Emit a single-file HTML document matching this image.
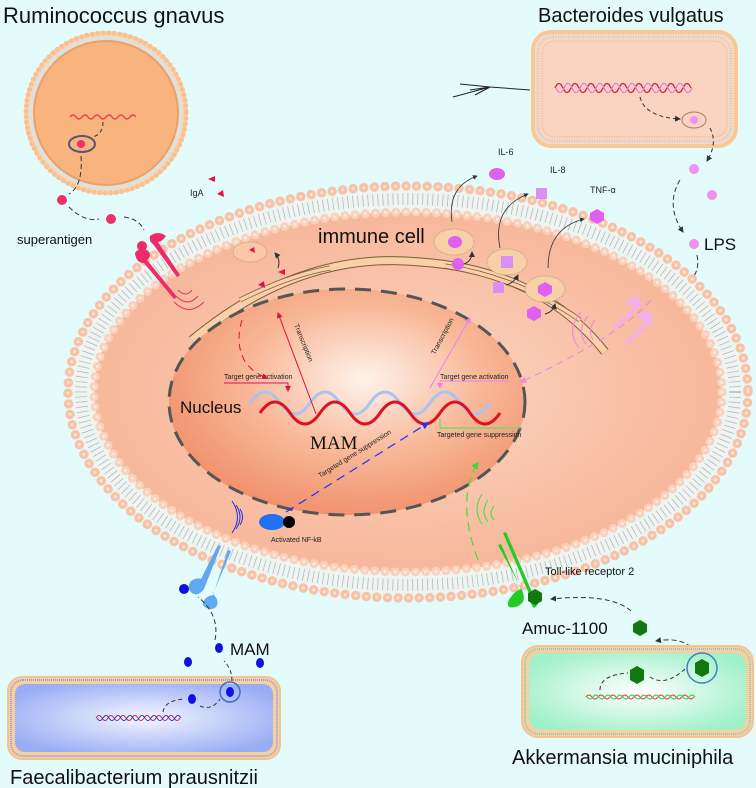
<!DOCTYPE html>
<html><head><meta charset="utf-8"><style>
html,body{margin:0;padding:0;background:#e4fbfb;}
svg{display:block;font-family:"Liberation Sans",sans-serif;}
</style></head><body>
<svg width="756" height="788" viewBox="0 0 756 788" xmlns="http://www.w3.org/2000/svg">
<defs>
<radialGradient id="nuc" cx="0.55" cy="0.4" r="0.65">
<stop offset="0" stop-color="#fff3ec"/><stop offset="0.5" stop-color="#f8b898"/><stop offset="1" stop-color="#f08c66"/>
</radialGradient>
<radialGradient id="cyto" cx="0.5" cy="0.5" r="0.6">
<stop offset="0" stop-color="#fbd6c2"/><stop offset="1" stop-color="#f6b193"/>
</radialGradient>
<radialGradient id="blue" cx="0.5" cy="0.5" r="0.6">
<stop offset="0" stop-color="#f4f6ff"/><stop offset="1" stop-color="#98adf4"/>
</radialGradient>
<radialGradient id="green" cx="0.5" cy="0.5" r="0.6">
<stop offset="0" stop-color="#ffffff"/><stop offset="1" stop-color="#9ff0c8"/>
</radialGradient>
<marker id="ah" markerWidth="6" markerHeight="6" refX="5" refY="3" orient="auto"><path d="M0,0L6,3L0,6z" fill="#333"/></marker>
<marker id="ahr" markerWidth="6" markerHeight="6" refX="5" refY="3" orient="auto"><path d="M0,0L6,3L0,6z" fill="#e0103a"/></marker>
<marker id="ahp" markerWidth="6" markerHeight="6" refX="5" refY="3" orient="auto"><path d="M0,0L6,3L0,6z" fill="#f080f0"/></marker>
<marker id="ahb" markerWidth="6" markerHeight="6" refX="5" refY="3" orient="auto"><path d="M0,0L6,3L0,6z" fill="#2030ff"/></marker>
<marker id="ahg" markerWidth="6" markerHeight="6" refX="5" refY="3" orient="auto"><path d="M0,0L6,3L0,6z" fill="#30e030"/></marker>
</defs>
<rect width="756" height="788" fill="#e4fbfb"/>

<!-- Ruminococcus -->
<text x="3" y="23" font-size="22" fill="#111">Ruminococcus gnavus</text>
<circle cx="106" cy="113" r="82" fill="#fbd6b6"/>
<circle cx="106" cy="113" r="80" fill="none" stroke="#f9c090" stroke-width="5" stroke-dasharray="0 5.5" stroke-linecap="round"/>
<circle cx="106" cy="113" r="75" fill="none" stroke="#d8e4e4" stroke-width="3"/>
<circle cx="106" cy="113" r="72" fill="#f8b47c" stroke="#e8a070" stroke-width="2"/>
<path d="M70,117 q3,-4 6,0 t6,0 t6,0 t6,0 t6,0 t6,0 t6,0 t6,0 t6,0 t6,0 t6,0" fill="none" stroke="#f03050" stroke-width="1.2"/>
<ellipse cx="82" cy="144" rx="13" ry="8" fill="none" stroke="#557" stroke-width="2"/>
<circle cx="81" cy="144" r="4" fill="#f0306a"/>
<path d="M103,122 q0,12 -10,15" fill="none" stroke="#333" stroke-dasharray="4 3"/>
<path d="M81,156 q2,30 -12,38" fill="none" stroke="#333" stroke-dasharray="5 3"/>
<circle cx="62" cy="200" r="5" fill="#f0306a"/>
<circle cx="111" cy="219" r="5" fill="#f0306a"/>
<path d="M69,207 q15,15 30,12" fill="none" stroke="#333" stroke-dasharray="5 3"/>
<path d="M124,217 q15,2 20,13" fill="none" stroke="#333" stroke-dasharray="5 3"/>
<text x="17" y="244" font-size="13" fill="#111">superantigen</text>
<text x="190" y="196" font-size="9" fill="#222">IgA</text>
<path d="M208,179 l7,-3 l0,6z M217,194 l6,-4 l1,7z" fill="#e8104a"/>

<!-- Bacteroides -->
<text x="538" y="22" font-size="20" fill="#111">Bacteroides vulgatus</text>
<rect x="533" y="32" width="203" height="114" rx="18" fill="#fad8c4" stroke="#f8c898" stroke-width="4"/>
<rect x="538" y="37" width="193" height="104" rx="15" fill="none" stroke="#ccc" stroke-width="3" stroke-dasharray="1 1.5"/>
<rect x="542" y="41" width="185" height="96" rx="12" fill="#fad4c0" stroke="#f6c29c" stroke-width="1"/>
<path d="M555,88 q4,-9 8,0 t8,0 t8,0 t8,0 t8,0 t8,0 t8,0 t8,0 t8,0 t8,0 t8,0 t8,0 t8,0 t8,0 t8,0 t8,0 t8,0" fill="none" stroke="#e0103a" stroke-width="1.3"/>
<path d="M556,88 q4,9 8,0 t8,0 t8,0 t8,0 t8,0 t8,0 t8,0 t8,0 t8,0 t8,0 t8,0 t8,0 t8,0 t8,0 t8,0 t8,0 t8,0" fill="none" stroke="#e080e0" stroke-width="1.3"/>
<path d="M530,90 L490,87 L453,97 M490,87 L470,90 M490,87 L460,84 M490,87 L475,95" fill="none" stroke="#222" stroke-width="1"/>
<ellipse cx="694" cy="120" rx="12" ry="8" fill="none" stroke="#a08060"/>
<circle cx="694" cy="120" r="4" fill="#f090f0"/>
<path d="M640,97 q5,20 40,22" fill="none" stroke="#333" stroke-dasharray="4 3" marker-end="url(#ah)"/>
<path d="M710,128 q8,15 -3,33" fill="none" stroke="#333" stroke-dasharray="4 3" marker-end="url(#ah)"/>
<circle cx="694" cy="169" r="5" fill="#f090f0"/>
<circle cx="712" cy="195" r="5" fill="#f090f0"/>
<circle cx="694" cy="244" r="5" fill="#f090f0"/>
<circle cx="661" cy="298" r="5" fill="#f090f0"/>
<path d="M680,180 q-15,25 3,52" fill="none" stroke="#333" stroke-dasharray="5 3" marker-end="url(#ah)"/>
<path d="M697,255 q5,25 -22,34" fill="none" stroke="#333" stroke-dasharray="5 3" marker-end="url(#ah)"/>
<text x="704" y="250" font-size="17" fill="#111">LPS</text>

<!-- Immune cell -->
<ellipse cx="408" cy="392" rx="340" ry="206" fill="#eef4f2"/>
<ellipse cx="408" cy="392" rx="327" ry="193" fill="none" stroke="#aab4b4" stroke-width="12" stroke-dasharray="0.7 4.3"/>
<ellipse cx="408" cy="392" rx="314" ry="180" fill="url(#cyto)"/>
<ellipse cx="408" cy="392" rx="340" ry="206" fill="none" stroke="#f7c2a6" stroke-width="9.5" stroke-dasharray="0 10.6" stroke-linecap="round"/>
<ellipse cx="408" cy="392" rx="340" ry="206" fill="none" stroke="#fde6da" stroke-width="3" stroke-dasharray="0 10.6" stroke-linecap="round"/>
<ellipse cx="408" cy="392" rx="314" ry="180" fill="none" stroke="#f9d2bd" stroke-width="9" stroke-dasharray="0 10.2" stroke-linecap="round"/>
<ellipse cx="408" cy="392" rx="314" ry="180" fill="none" stroke="#fde8de" stroke-width="3" stroke-dasharray="0 10.2" stroke-linecap="round"/>
<text x="318" y="243" font-size="20" fill="#111">immune cell</text>

<!-- ER -->
<path d="M192,340 Q300,250 420,262 Q540,270 605,352" fill="none" stroke="#7a5a40" stroke-width="9"/>
<path d="M192,340 Q300,250 420,262 Q540,270 605,352" fill="none" stroke="#fad0a8" stroke-width="7"/>
<path d="M240,300 Q290,275 330,268" fill="none" stroke="#7a5a40" stroke-width="5"/>
<path d="M240,300 Q290,275 330,268" fill="none" stroke="#fad0a8" stroke-width="3.5"/>
<path d="M445,266 Q520,278 580,320" fill="none" stroke="#7a5a40" stroke-width="5"/>
<path d="M445,266 Q520,278 580,320" fill="none" stroke="#fad0a8" stroke-width="3.5"/>

<!-- Nucleus -->
<ellipse cx="347" cy="402" rx="178" ry="113" fill="url(#nuc)" stroke="#555" stroke-width="3" stroke-dasharray="16 10"/>
<text x="180" y="413" font-size="17" fill="#111">Nucleus</text>
<text x="310" y="449" font-size="19" font-family="Liberation Serif,serif" fill="#111">MAM</text>
<path d="M250,403 q15,-22 30,0 t30,0 t30,0 t30,0 t30,0 t30,0 t30,0 t30,0" fill="none" stroke="#a8c4f4" stroke-width="3"/>
<path d="M260,413 q15,-22 30,0 t30,0 t30,0 t30,0 t30,0 t30,0 t30,0 t30,0" fill="none" stroke="#e01020" stroke-width="3"/>

<text x="224" y="379" font-size="7" fill="#222">Target gene activation</text>
<path d="M224,383 H288 V391" fill="none" stroke="#e0105a" stroke-width="1" marker-end="url(#ahr)"/>
<text x="440" y="379" font-size="7" fill="#222">Target gene activation</text>
<path d="M510,381 H440 V388" fill="none" stroke="#f080f0" stroke-width="1" marker-end="url(#ahp)"/>
<text x="437" y="437" font-size="7" fill="#222">Targeted gene suppression</text>
<path d="M521,428 H440 V418" fill="none" stroke="#60e060" stroke-width="1.2"/>
<path d="M316,414 L278,313" stroke="#e0103a" stroke-width="1" marker-end="url(#ahr)"/>
<text transform="translate(294,325) rotate(68)" font-size="7" fill="#222">Transcription</text>
<path d="M430,388 L470,318" stroke="#f080f0" stroke-width="1" marker-end="url(#ahp)"/>
<text transform="translate(435,355) rotate(-62)" font-size="7" fill="#222">Transcription</text>
<path d="M286,512 L428,423" stroke="#2030ff" stroke-width="1.2" stroke-dasharray="9 6" marker-end="url(#ahb)"/>
<text transform="translate(320,478) rotate(-32)" font-size="7" fill="#222">Targeted gene suppression</text>
<path d="M242,320 q-6,20 0,35 q5,15 25,23" fill="none" stroke="#e0103a" stroke-width="1" stroke-dasharray="7 5" marker-end="url(#ahr)"/>
<path d="M651,300 q-30,35 -130,82" fill="none" stroke="#f080f0" stroke-width="1" stroke-dasharray="7 5" marker-end="url(#ahp)"/>
<path d="M478,560 q-15,-40 -10,-70 q3,-18 10,-27" fill="none" stroke="#40e040" stroke-width="1.2" stroke-dasharray="9 6" marker-end="url(#ahg)"/>

<!-- IgA vesicle -->
<ellipse cx="250" cy="252" rx="17" ry="10" fill="#fac8a8" stroke="#c8a080" stroke-dasharray="1.5 1"/>
<path d="M249,250 l5,-3 l1,6z M278,272 l7,-3 l0,6z M258,285 l6,-4 l1,7z" fill="#e8104a"/>
<path d="M278,268 q3,-8 -3,-15" fill="none" stroke="#333" marker-end="url(#ah)"/>

<!-- cytokine vesicles -->
<ellipse cx="454" cy="242" rx="20" ry="13" fill="#f8d0a8" stroke="#c8a080" stroke-dasharray="1.5 1"/>
<ellipse cx="455" cy="242" rx="7" ry="6" fill="#e060f0"/>
<ellipse cx="458" cy="264" rx="6" ry="6" fill="#e060f0"/>
<path d="M464,264 q8,-3 8,-12" fill="none" stroke="#333" marker-end="url(#ah)"/>
<ellipse cx="507" cy="262" rx="20" ry="13" fill="#f8d0a8" stroke="#c8a080" stroke-dasharray="1.5 1"/>
<rect x="501" y="256" width="12" height="12" fill="#d890f4"/>
<rect x="493" y="282" width="11" height="11" fill="#d890f4"/>
<path d="M506,285 q8,-2 12,-10" fill="none" stroke="#333" marker-end="url(#ah)"/>
<ellipse cx="545" cy="289" rx="20" ry="13" fill="#f8d0a8" stroke="#c8a080" stroke-dasharray="1.5 1"/>
<path d="M545,282 l7,4 v7 l-7,4 l-7,-4 v-7z" fill="#e060f0"/>
<path d="M534,306 l7,4 v7 l-7,4 l-7,-4 v-7z" fill="#e060f0"/>
<path d="M545,314 q8,-2 10,-10" fill="none" stroke="#333" marker-end="url(#ah)"/>
<path d="M452,222 q-5,-35 25,-46" fill="none" stroke="#333" stroke-width="0.8" marker-end="url(#ah)"/>
<path d="M500,248 q-8,-40 28,-54" fill="none" stroke="#333" stroke-width="0.8" marker-end="url(#ah)"/>
<path d="M548,268 q0,-40 36,-49" fill="none" stroke="#333" stroke-width="0.8" marker-end="url(#ah)"/>
<text x="498" y="155" font-size="9" fill="#222">IL-6</text>
<ellipse cx="497" cy="174" rx="8" ry="6" fill="#e060f0"/>
<text x="550" y="173" font-size="9" fill="#222">IL-8</text>
<rect x="536" y="188" width="11" height="11" fill="#d890f4"/>
<text x="590" y="193" font-size="9" fill="#222">TNF-α</text>
<path d="M597,209 l7,4 v7 l-7,4 l-7,-4 v-7z" fill="#e060f0"/>

<!-- Pink superantigen receptor -->
<g fill="#ee2a6a">
<circle cx="142" cy="246" r="5"/>
<path d="M150,236 q8,-6 16,0 q-4,6 -8,6 l22,33 l-3,2 l-24,-33 q-4,-2 -3,-8z"/>
<path d="M135,253 q4,-6 12,-3 q6,5 0,10 l30,37 l-3,2 l-30,-36 q-8,0 -9,-10z"/>
</g>
<path d="M178,290 q8,8 14,0 M176,296 q12,12 22,0 M174,302 q15,15 30,0" fill="none" stroke="#ee2a6a" stroke-width="1"/>
<!-- LPS receptor -->
<g fill="#f0b0e8">
<path d="M640,298 q-10,-4 -14,6 q6,4 10,2 l-24,22 l3,2 l24,-22 q4,-3 1,-10z"/>
<path d="M650,312 q-12,-2 -12,8 q6,3 10,1 l-24,22 l3,2 l24,-22 q4,-3 -1,-11z"/>
</g>
<path d="M595,320 q-8,10 -2,20 M588,316 q-12,14 -2,28 M581,312 q-16,18 -2,36" fill="none" stroke="#f080f0" stroke-width="1"/>

<!-- NF-kB and blue receptor -->
<ellipse cx="272" cy="522" rx="13" ry="8" fill="#2070f0"/>
<circle cx="289" cy="522" r="6" fill="#000"/>
<text x="271" y="542" font-size="7" fill="#222">Activated NF-kB</text>
<path d="M240,525 q5,-8 0,-16 M236,529 q8,-12 0,-24 M232,533 q11,-16 0,-32" fill="none" stroke="#2030e0" stroke-width="1"/>
<g fill="#60a8f0">
<path d="M218,545 l3,1 l-17,43 q-6,8 -12,4 q-6,-5 -1,-12 q6,-4 10,-2z"/>
<path d="M228,550 l3,1 l-18,43 q8,8 2,14 q-7,3 -12,-3 q0,-8 10,-10z"/>
</g>
<circle cx="184" cy="589" r="5" fill="#1010e0"/>

<!-- TLR2 green -->
<g fill="#22cc22">
<path d="M503,533 l3,-1 l26,60 q6,-2 8,4 q0,8 -6,12 q-5,-5 -4,-12z"/>
<path d="M498,545 l3,-1 l20,45 q-6,2 -10,8 q-5,6 -2,10 q8,2 14,-5 q2,-6 -1,-12z"/>
</g>
<path d="M494,520 q-6,-6 0,-14 M488,522 q-8,-10 0,-22 M482,524 q-10,-14 0,-30" fill="none" stroke="#40e040" stroke-width="1"/>
<text x="545" y="575" font-size="11" fill="#111">Toll-like receptor 2</text>
<path d="M535,589 l7,4 v8 l-7,4 l-7,-4 v-8z" fill="#117711"/>
<path d="M631,611 q-20,-18 -80,-12" fill="none" stroke="#333" stroke-dasharray="5 3" marker-end="url(#ah)"/>
<text x="522" y="634" font-size="17" fill="#111">Amuc-1100</text>
<path d="M640,620 l7,4 v8 l-7,4 l-7,-4 v-8z" fill="#117711"/>
<path d="M700,660 q-10,-25 -44,-19" fill="none" stroke="#333" stroke-dasharray="5 3" marker-end="url(#ah)"/>

<!-- Faecalibacterium -->
<rect x="8" y="677" width="272" height="82" rx="14" fill="#f8d0a0" stroke="#f4c490" stroke-width="2"/>
<rect x="11" y="680" width="266" height="76" rx="12" fill="none" stroke="#8aa0f0" stroke-width="2" stroke-dasharray="1 1"/>
<rect x="15" y="684" width="258" height="68" rx="10" fill="url(#blue)"/>
<path d="M96,718 q3,-5 6,0 t6,0 t6,0 t6,0 t6,0 t6,0 t6,0 t6,0 t6,0 t6,0 t6,0 t6,0 t6,0 t6,0" fill="none" stroke="#e02040" stroke-width="1"/>
<path d="M97,718 q3,5 6,0 t6,0 t6,0 t6,0 t6,0 t6,0 t6,0 t6,0 t6,0 t6,0 t6,0 t6,0 t6,0 t6,0" fill="none" stroke="#2040e0" stroke-width="1"/>
<circle cx="230" cy="692" r="10" fill="none" stroke="#4070c0" stroke-width="1.5"/>
<ellipse cx="230" cy="692" rx="4" ry="5" fill="#1010e0"/>
<ellipse cx="192" cy="699" rx="4" ry="5" fill="#1010e0"/>
<path d="M163,712 q2,-12 22,-13" fill="none" stroke="#333" stroke-dasharray="4 3"/>
<path d="M200,706 q12,5 20,-7" fill="none" stroke="#333" stroke-dasharray="4 3"/>
<ellipse cx="188" cy="662" rx="4" ry="5" fill="#1010e0"/>
<ellipse cx="219" cy="648" rx="4" ry="5" fill="#1010e0"/>
<ellipse cx="260" cy="663" rx="4" ry="5" fill="#1010e0"/>
<text x="230" y="655" font-size="17" fill="#111">MAM</text>
<path d="M232,681 q0,-12 -8,-20" fill="none" stroke="#333" stroke-dasharray="4 3"/>
<path d="M215,640 q5,-25 -17,-43" fill="none" stroke="#333" stroke-dasharray="5 3"/>
<text x="10" y="784" font-size="20" fill="#111">Faecalibacterium prausnitzii</text>

<!-- Akkermansia -->
<rect x="522" y="646" width="231" height="91" rx="16" fill="#f8d0a0" stroke="#f4c490" stroke-width="2"/>
<rect x="525" y="649" width="225" height="85" rx="14" fill="none" stroke="#90c8c0" stroke-width="2" stroke-dasharray="1 1"/>
<rect x="529" y="653" width="217" height="77" rx="12" fill="url(#green)"/>
<path d="M586,697 q3,-4 6,0 t6,0 t6,0 t6,0 t6,0 t6,0 t6,0 t6,0 t6,0 t6,0 t6,0 t6,0 t6,0 t6,0 t6,0 t6,0 t6,0 t6,0" fill="none" stroke="#e04040" stroke-width="1"/>
<path d="M587,697 q3,4 6,0 t6,0 t6,0 t6,0 t6,0 t6,0 t6,0 t6,0 t6,0 t6,0 t6,0 t6,0 t6,0 t6,0 t6,0 t6,0 t6,0 t6,0" fill="none" stroke="#40c060" stroke-width="1"/>
<circle cx="702" cy="668" r="15" fill="none" stroke="#4080c0" stroke-width="1.5"/>
<path d="M702,659 l7,4 v10 l-7,4 l-7,-4 v-10z" fill="#117711"/>
<path d="M637,666 l7,4 v10 l-7,4 l-7,-4 v-10z" fill="#117711"/>
<path d="M600,690 q0,-15 28,-17" fill="none" stroke="#333" stroke-dasharray="4 3"/>
<path d="M650,677 q15,10 35,-8" fill="none" stroke="#333" stroke-dasharray="4 3"/>
<text x="512" y="764" font-size="20" fill="#111">Akkermansia muciniphila</text>
</svg>
</body></html>
